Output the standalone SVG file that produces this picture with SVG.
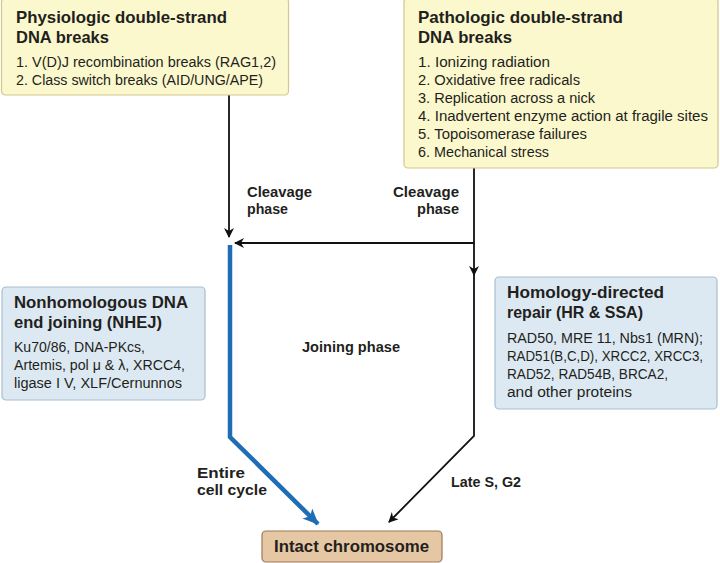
<svg xmlns="http://www.w3.org/2000/svg" width="720" height="563" viewBox="0 0 720 563">
<defs>
<style>
.yb{fill:#fcf8cd;stroke:#d4c68c;stroke-width:1.2}
.bb{fill:#dde9f2;stroke:#a7bfd1;stroke-width:1.2}
.tb{fill:#e6c7a4;stroke:#9b7856;stroke-width:1.2}
.t{font-family:"Liberation Sans",Arial,sans-serif;fill:#231f20}
.h{font-size:16.5px;font-weight:bold}
.b{font-size:14px}
.l{font-size:14px;font-weight:bold}
.k{fill:none;stroke:#111;stroke-width:1.8}
.bl{fill:none;stroke:#1f6db5;stroke-width:4.5}
</style>
<marker id="ak" markerWidth="10" markerHeight="10" refX="9" refY="5" orient="auto" markerUnits="userSpaceOnUse" viewBox="0 0 10 10">
<path d="M0,0 L10,5 L0,10 L3,5 Z" fill="#111"/>
</marker>
<marker id="ab" markerWidth="16" markerHeight="14" refX="15" refY="7" orient="auto" markerUnits="userSpaceOnUse" viewBox="0 0 16 14">
<path d="M0,0 L16,7 L0,14 L4,7 Z" fill="#1f6db5"/>
</marker>
</defs>
<rect width="720" height="563" fill="#fff"/>
<g id="connectors">
<path class="k" d="M229,95 V237" marker-end="url(#ak)"/>
<path class="k" d="M474,168 V243 H235" marker-end="url(#ak)"/>
<path class="k" d="M474,243 V275" marker-end="url(#ak)"/>
<path class="k" d="M474,270 V436 L389,522" marker-end="url(#ak)"/>
<path class="bl" d="M230,245 V437 L318,524" marker-end="url(#ab)"/>
<text class="t l" x="247" y="197" textLength="65" lengthAdjust="spacingAndGlyphs">Cleavage</text>
<text class="t l" x="247" y="214" textLength="41" lengthAdjust="spacingAndGlyphs">phase</text>
<text class="t l" x="393" y="197" textLength="66" lengthAdjust="spacingAndGlyphs">Cleavage</text>
<text class="t l" x="417" y="214" textLength="42" lengthAdjust="spacingAndGlyphs">phase</text>
<text class="t l" x="302" y="352" textLength="98" lengthAdjust="spacingAndGlyphs">Joining phase</text>
<text class="t l" x="197" y="478" textLength="48" lengthAdjust="spacingAndGlyphs">Entire</text>
<text class="t l" x="197" y="495" textLength="70" lengthAdjust="spacingAndGlyphs">cell cycle</text>
<text class="t l" x="451" y="487" textLength="70" lengthAdjust="spacingAndGlyphs">Late S, G2</text>
</g>
<g id="physiologic">
<rect class="yb" x="1.5" y="-2" width="287" height="97" rx="4"/>
<text class="t h" x="16" y="23" textLength="211" lengthAdjust="spacingAndGlyphs">Physiologic double-strand</text>
<text class="t h" x="16" y="43" textLength="93" lengthAdjust="spacingAndGlyphs">DNA breaks</text>
<text class="t b" x="16" y="67" textLength="260" lengthAdjust="spacingAndGlyphs">1. V(D)J recombination breaks (RAG1,2)</text>
<text class="t b" x="16" y="85" textLength="247" lengthAdjust="spacingAndGlyphs">2. Class switch breaks (AID/UNG/APE)</text>
</g>
<g id="pathologic">
<rect class="yb" x="404" y="-2" width="314" height="170" rx="4"/>
<text class="t h" x="418" y="23" textLength="205" lengthAdjust="spacingAndGlyphs">Pathologic double-strand</text>
<text class="t h" x="418" y="43" textLength="94" lengthAdjust="spacingAndGlyphs">DNA breaks</text>
<text class="t b" x="418" y="67" textLength="132" lengthAdjust="spacingAndGlyphs">1. Ionizing radiation</text>
<text class="t b" x="418" y="85" textLength="162" lengthAdjust="spacingAndGlyphs">2. Oxidative free radicals</text>
<text class="t b" x="418" y="103" textLength="177" lengthAdjust="spacingAndGlyphs">3. Replication across a nick</text>
<text class="t b" x="418" y="121" textLength="290" lengthAdjust="spacingAndGlyphs">4. Inadvertent enzyme action at fragile sites</text>
<text class="t b" x="418" y="139" textLength="169" lengthAdjust="spacingAndGlyphs">5. Topoisomerase failures</text>
<text class="t b" x="418" y="157" textLength="131" lengthAdjust="spacingAndGlyphs">6. Mechanical stress</text>
</g>
<g id="nhej">
<rect class="bb" x="2" y="287" width="203" height="113" rx="4"/>
<text class="t h" x="14" y="308" textLength="174" lengthAdjust="spacingAndGlyphs">Nonhomologous DNA</text>
<text class="t h" x="14" y="328" textLength="148" lengthAdjust="spacingAndGlyphs">end joining (NHEJ)</text>
<text class="t b" x="14" y="352" textLength="131" lengthAdjust="spacingAndGlyphs">Ku70/86, DNA-PKcs,</text>
<text class="t b" x="14" y="370" textLength="171" lengthAdjust="spacingAndGlyphs">Artemis, pol μ &amp; λ, XRCC4,</text>
<text class="t b" x="14" y="388" textLength="168" lengthAdjust="spacingAndGlyphs">ligase I V, XLF/Cernunnos</text>
</g>
<g id="hdr">
<rect class="bb" x="495" y="277" width="222" height="132" rx="4"/>
<text class="t h" x="507" y="298" textLength="157" lengthAdjust="spacingAndGlyphs">Homology-directed</text>
<text class="t h" x="507" y="318" textLength="136" lengthAdjust="spacingAndGlyphs">repair (HR &amp; SSA)</text>
<text class="t b" x="507" y="343" textLength="196" lengthAdjust="spacingAndGlyphs">RAD50, MRE 11, Nbs1 (MRN);</text>
<text class="t b" x="507" y="361" textLength="196" lengthAdjust="spacingAndGlyphs">RAD51(B,C,D), XRCC2, XRCC3,</text>
<text class="t b" x="507" y="379" textLength="161" lengthAdjust="spacingAndGlyphs">RAD52, RAD54B, BRCA2,</text>
<text class="t b" x="507" y="397" textLength="125" lengthAdjust="spacingAndGlyphs">and other proteins</text>
</g>
<g id="intact">
<rect class="tb" x="262" y="531" width="180" height="31" rx="4"/>
<text class="t h" x="274" y="552" textLength="155" lengthAdjust="spacingAndGlyphs">Intact chromosome</text>
</g>
</svg>
